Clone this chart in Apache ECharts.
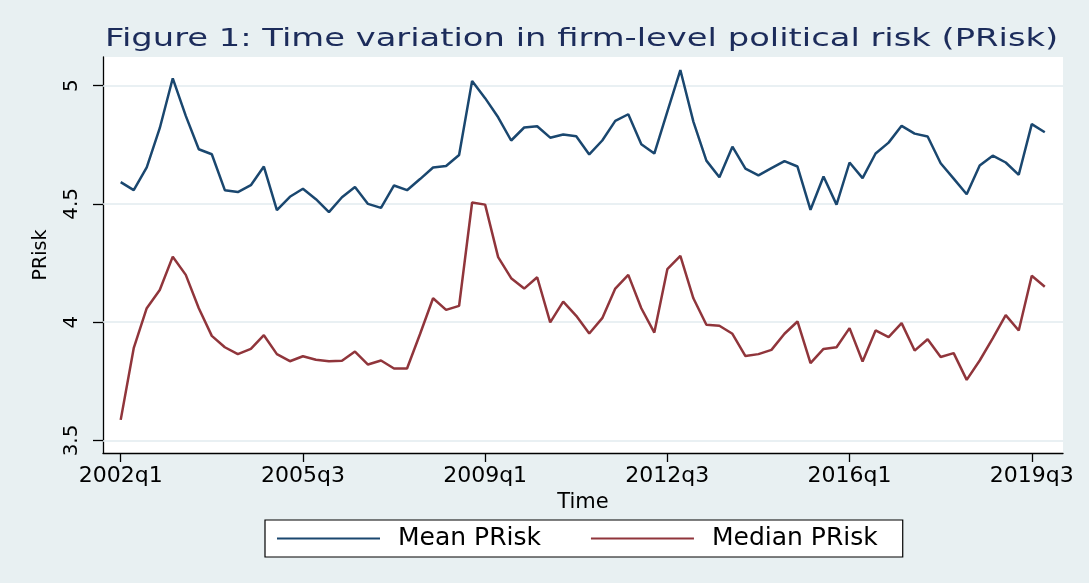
<!DOCTYPE html>
<html>
<head>
<meta charset="utf-8">
<script src="https://cdn.jsdelivr.net/npm/echarts@6/dist/echarts.min.js"></script>
<style>
  html, body { margin: 0; padding: 0; background: #e8f0f2; }
  #chart { width: 1089px; height: 583px; }
</style>
</head>
<body>
<div id="chart"></div>
<script>
// Quarter labels 2002q1 .. 2019q4 (72 quarters)
var quarters = [];
for (var yr = 2002; yr <= 2019; yr++) { for (var q = 1; q <= 4; q++) { quarters.push(yr + 'q' + q); } }

var titleText = 'Figure 1: Time variation in firm-level political risk (PRisk)';
var tickLabels = ['2002q1', '2005q3', '2009q1', '2012q3', '2016q1', '2019q3'];
var yTicks = [3.5, 4, 4.5, 5];

var meanPRisk = [4.592, 4.558, 4.654, 4.820, 5.031, 4.872, 4.731, 4.710, 4.558, 4.550,
  4.579, 4.658, 4.474, 4.530, 4.564, 4.520, 4.465, 4.528, 4.571, 4.500,
  4.483, 4.578, 4.558, 4.605, 4.654, 4.660, 4.707, 5.020, 4.947, 4.866,
  4.768, 4.823, 4.828, 4.780, 4.793, 4.786, 4.709, 4.768, 4.851, 4.879,
  4.752, 4.713, 4.890, 5.066, 4.848, 4.683, 4.613, 4.742, 4.649, 4.621,
  4.651, 4.681, 4.658, 4.475, 4.616, 4.497, 4.675, 4.609, 4.713, 4.759,
  4.830, 4.797, 4.785, 4.672, 4.607, 4.541, 4.662, 4.704, 4.675, 4.623,
  4.837, 4.803];

var medianPRisk = [3.587, 3.890, 4.059, 4.136, 4.277, 4.200, 4.059, 3.942, 3.894, 3.865,
  3.887, 3.945, 3.865, 3.835, 3.856, 3.841, 3.835, 3.837, 3.876, 3.821,
  3.838, 3.804, 3.804, 3.950, 4.101, 4.052, 4.069, 4.506, 4.497, 4.275,
  4.186, 4.142, 4.190, 3.999, 4.087, 4.027, 3.952, 4.017, 4.142, 4.200,
  4.059, 3.956, 4.224, 4.280, 4.101, 3.989, 3.985, 3.951, 3.857, 3.865,
  3.883, 3.951, 4.003, 3.827, 3.887, 3.894, 3.975, 3.834, 3.965, 3.937,
  3.996, 3.880, 3.928, 3.853, 3.869, 3.756, 3.838, 3.932, 4.030, 3.965,
  4.196, 4.150];

var tickIdx = tickLabels.map(function (l) { return quarters.indexOf(l); });
function pairs(arr) { return arr.map(function (v, i) { return [i, v]; }); }

var FONT = 'DejaVu Sans';
var chart = echarts.init(document.getElementById('chart'), null, { renderer: 'canvas' });
chart.setOption({
  backgroundColor: '#e8f0f2',
  animation: false,
  graphic: [{
    type: 'text', x: 105, y: 27, scaleX: 1.35, originX: 0, originY: 0, silent: true,
    style: {
      text: titleText, fontFamily: FONT, fontSize: 25, fill: '#1c2c5b',
      verticalAlign: 'top', align: 'left'
    }
  }],
  grid: {
    left: 103, right: 26, top: 57, bottom: 130,
    show: true, backgroundColor: '#ffffff', borderWidth: 0
  },
  xAxis: {
    type: 'value',
    min: -1.36, max: 72.4,
    name: 'Time', nameLocation: 'middle', nameGap: 24,
    nameTextStyle: { fontFamily: FONT, fontSize: 21, color: '#000' },
    axisLine: { show: true, onZero: false, lineStyle: { color: '#000', width: 1.3 } },
    axisTick: { show: true, length: 9, customValues: tickIdx, lineStyle: { color: '#000', width: 1.3 } },
    axisLabel: {
      customValues: tickIdx, margin: 12,
      fontFamily: FONT, fontSize: 22, color: '#000',
      formatter: function (v) { return quarters[Math.round(v)] || ''; }
    },
    splitLine: { show: false }
  },
  yAxis: {
    type: 'value',
    min: 3.447, max: 5.121,
    name: 'PRisk', nameLocation: 'middle', nameGap: 52, nameRotate: 90,
    nameTextStyle: { fontFamily: FONT, fontSize: 19, color: '#000' },
    axisLine: { show: true, onZero: false, lineStyle: { color: '#000', width: 1.3 } },
    axisTick: { show: true, length: 10, customValues: yTicks, lineStyle: { color: '#000', width: 1.3 } },
    axisLabel: {
      customValues: yTicks, rotate: 90, margin: 21,
      fontFamily: FONT, fontSize: 20, color: '#000',
      formatter: function (v) { return String(v); }
    },
    splitLine: { show: false }
  },
  legend: {
    left: 265, top: 520,
    orient: 'horizontal',
    backgroundColor: '#ffffff', borderColor: '#000', borderWidth: 1.2, borderRadius: 0,
    padding: [6, 25, 6, 12],
    icon: 'rect', itemWidth: 103, itemHeight: 2, itemGap: 50,
    textStyle: { fontFamily: FONT, fontSize: 25, color: '#000', padding: [0, 0, 0, 13], lineHeight: 25 },
    data: ['Mean PRisk', 'Median PRisk']
  },
  series: [
    {
      name: 'Mean PRisk', type: 'line', symbol: 'none',
      data: pairs(meanPRisk),
      lineStyle: { color: '#1a476f', width: 2.5 },
      itemStyle: { color: '#1a476f' },
      z: 3,
      markLine: {
        silent: true, symbol: 'none', z: 1,
        label: { show: false },
        lineStyle: { color: '#e2ebef', width: 1.5, type: 'solid' },
        data: yTicks.map(function (t) { return { yAxis: t }; })
      }
    },
    {
      name: 'Median PRisk', type: 'line', symbol: 'none',
      data: pairs(medianPRisk),
      lineStyle: { color: '#90353b', width: 2.5 },
      itemStyle: { color: '#90353b' },
      z: 3
    }
  ]
});
</script>
</body>
</html>
